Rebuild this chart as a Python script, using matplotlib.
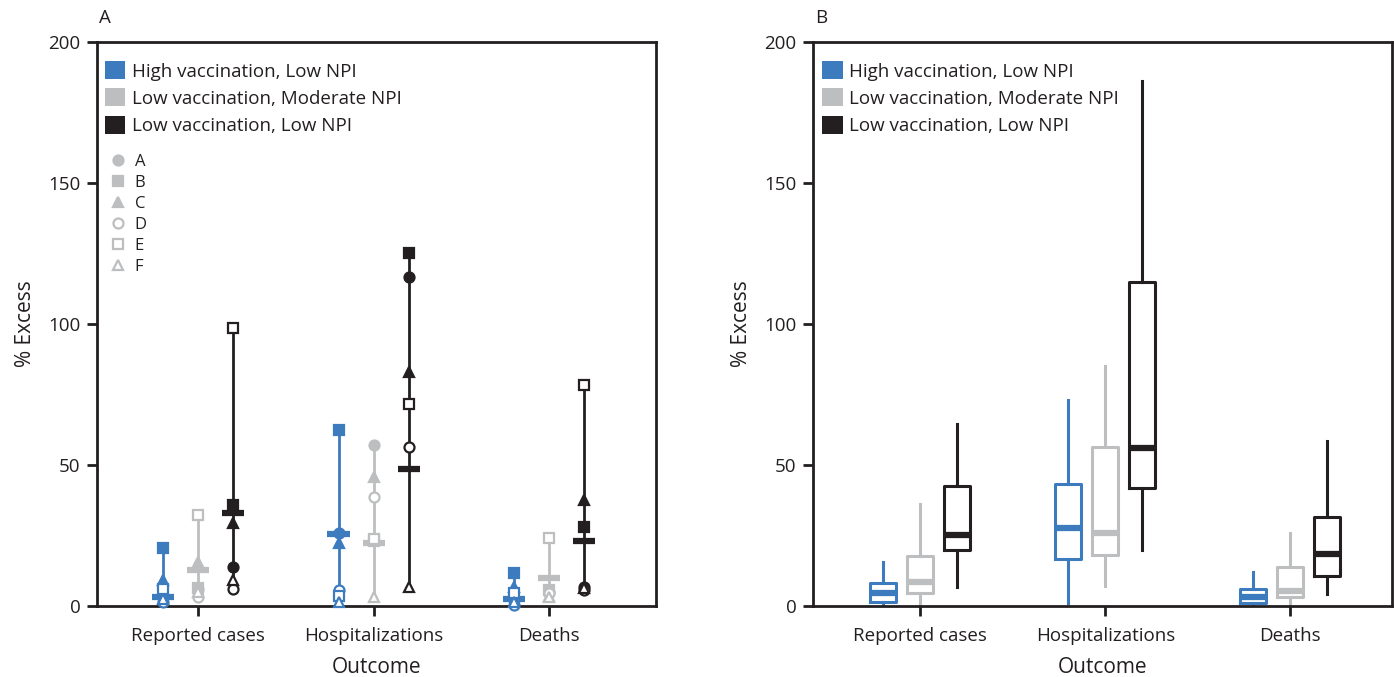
import numpy as np
import matplotlib.pyplot as plt
from matplotlib.lines import Line2D
from matplotlib.patches import Patch

plt.rcParams['font.family'] = ['Open Sans', 'DejaVu Sans']

outcomes = ['Reported cases', 'Hospitalizations', 'Deaths']
groups = ['High vaccination, Low NPI', 'Low vaccination, Moderate NPI', 'Low vaccination, Low NPI']
colors = ['#3d7bbf', '#bcbec0', '#231f20']
scen_names = ['A', 'B', 'C', 'D', 'E', 'F']

# panel A: scenario projections, one row per outcome, columns = scenarios A-F
high_vax_low_npi = [
    [3.5, 20.6, 9.2, 1.4, 6.0, 2.5],
    [26.0, 62.4, 22.3, 5.5, 3.5, 1.5],
    [2.0, 11.7, 6.7, 0.5, 4.6, 1.5],
]
low_vax_mod_npi = [
    [6.0, 6.4, 15.6, 3.2, 32.3, 5.0],
    [57.0, 23.0, 45.7, 38.7, 23.8, 3.2],
    [5.0, 5.7, 3.5, 4.6, 24.0, 3.0],
]
low_vax_low_npi = [
    [13.8, 35.8, 29.4, 6.0, 98.4, 9.2],
    [116.8, 125.0, 83.0, 56.4, 71.6, 6.7],
    [6.7, 28.0, 37.6, 5.7, 78.4, 6.2],
]
# ensemble value (horizontal bar), per outcome
high_vax_center = [3.2, 25.5, 2.5]
mod_npi_center = [12.8, 22.3, 10.0]
low_npi_center = [33.0, 48.6, 23.0]

# panel B: box stats per outcome -> (whisker low, q1, median, q3, whisker high)
high_vax_box = [
    (0.0, 1.4, 4.6, 8.2, 15.6),
    (1.0, 16.6, 27.7, 43.3, 73.0),
    (0.0, 1.0, 3.2, 6.0, 12.0),
]
mod_npi_box = [
    (0.0, 4.6, 8.5, 17.7, 36.2),
    (7.0, 18.0, 25.9, 56.4, 85.0),
    (0.7, 3.2, 5.3, 13.8, 26.0),
]
low_npi_box = [
    (6.7, 19.9, 25.2, 42.5, 64.5),
    (19.9, 41.8, 56.0, 115.0, 186.0),
    (4.3, 10.6, 18.4, 31.6, 58.5),
]

scen_data = [high_vax_low_npi, low_vax_mod_npi, low_vax_low_npi]
centers = [high_vax_center, mod_npi_center, low_npi_center]
box_data = [high_vax_box, mod_npi_box, low_npi_box]

ink = '#231f20'
offsets = [-0.2, 0.0, 0.2]
x = np.arange(1, 4)
markers = [('o', True), ('s', True), ('^', True), ('o', False), ('s', False), ('^', False)]

fig = plt.figure(figsize=(13.94, 6.77), dpi=100)
axA = fig.add_axes([0.0696, 0.105, 0.401, 0.833])
axB = fig.add_axes([0.5832, 0.105, 0.4154, 0.833])


def style_axis(ax, xlim):
    ax.set_xlim(*xlim)
    ax.set_ylim(0, 200)
    ax.set_yticks([0, 50, 100, 150, 200])
    ax.set_xticks(x)
    ax.set_xticklabels(outcomes)
    for s in ax.spines.values():
        s.set_color(ink)
        s.set_linewidth(2)
    ax.tick_params(direction='out', length=7, width=2, color=ink, labelsize=13.5, labelcolor=ink)
    ax.tick_params(axis='x', pad=8)
    ax.tick_params(axis='y', pad=5)
    ax.set_xlabel('Outcome', fontsize=15, color=ink, labelpad=9)
    ax.set_ylabel('% Excess', fontsize=15, color=ink, labelpad=9)


# ---- panel A ----
for g in range(3):
    c = colors[g]
    for o in range(3):
        xp = x[o] + offsets[g]
        vals = scen_data[g][o]
        axA.plot([xp, xp], [min(vals), max(vals)], color=c, lw=2, zorder=2, clip_on=False)
        axA.plot([xp - 0.063, xp + 0.063], [centers[g][o]] * 2, color=c, lw=4.5,
                 solid_capstyle='butt', zorder=3, clip_on=False)
        for v, (m, filled) in zip(vals, markers):
            axA.plot(xp, v, marker=m, ms=7.2 if m != 's' else 6.8, color=c,
                     mfc=c if filled else 'white', mec=c, mew=1.6,
                     zorder=4, clip_on=False, ls='none')

style_axis(axA, (0.423, 3.61))
axA.text(0.003, 1.027, 'A', transform=axA.transAxes, fontsize=13.5, color=ink, va='bottom')

grp_handles = [Patch(facecolor=c, edgecolor='none') for c in colors]
leg1 = axA.legend(grp_handles, groups, loc='upper left', bbox_to_anchor=(0.014, 0.966),
                  frameon=False, fontsize=13.5, borderpad=0, borderaxespad=0,
                  handlelength=1.1, handleheight=1.1, handletextpad=0.35, labelspacing=0.42,
                  labelcolor=ink)
axA.add_artist(leg1)
gray = colors[1]
scen_handles = [Line2D([], [], ls='none', marker=m, ms=7.2 if m != 's' else 6.8, color=gray,
                       mfc=gray if f else 'white', mec=gray, mew=1.6) for m, f in markers]
axA.legend(scen_handles, scen_names, loc='upper left', bbox_to_anchor=(0.021, 0.802),
           frameon=False, fontsize=12, borderpad=0, borderaxespad=0,
           handlelength=1.05, handletextpad=0.5, labelspacing=0.3, labelcolor=ink)

# ---- panel B ----
for g in range(3):
    c = colors[g]
    stats = []
    for o in range(3):
        lo, q1, med, q3, hi = box_data[g][o]
        stats.append(dict(whislo=lo, q1=q1, med=med, q3=q3, whishi=hi, fliers=[]))
    axB.bxp(stats, positions=x + offsets[g], widths=0.14, showcaps=False, showfliers=False,
            boxprops=dict(color=c, lw=2.2),
            whiskerprops=dict(color=c, lw=2.2),
            medianprops=dict(color=c, lw=4.5, solid_capstyle='butt'),
            manage_ticks=False)

style_axis(axB, (0.42, 3.55))
axB.text(0.003, 1.027, 'B', transform=axB.transAxes, fontsize=13.5, color=ink, va='bottom')
axB.legend(grp_handles, groups, loc='upper left', bbox_to_anchor=(0.016, 0.966),
           frameon=False, fontsize=13.5, borderpad=0, borderaxespad=0,
           handlelength=1.1, handleheight=1.1, handletextpad=0.35, labelspacing=0.42,
           labelcolor=ink)

fig.savefig('out.png', dpi=100)
